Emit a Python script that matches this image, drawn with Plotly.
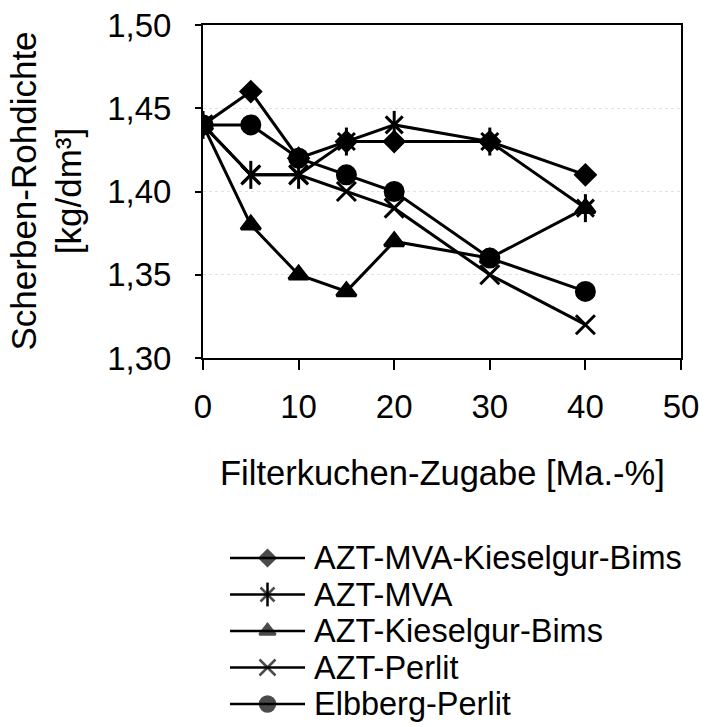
import plotly.graph_objects as go

# Filter cake addition [mass-%]
zugabe = [0, 5, 10, 15, 20, 30, 40]

# Bulk density of the fired body [kg/dm³] per mixture
azt_mva_kieselgur_bims = [1.44, 1.46, 1.42, 1.43, 1.43, 1.43, 1.41]
azt_mva = [1.44, 1.41, 1.41, 1.43, 1.44, 1.43, 1.39]
azt_kieselgur_bims = [1.44, 1.38, 1.35, 1.34, 1.37, 1.36, 1.39]
azt_perlit = [1.44, 1.41, 1.41, 1.40, 1.39, 1.35, 1.32]
elbberg_perlit = [1.44, 1.44, 1.42, 1.41, 1.40, 1.36, 1.34]

series_names = [
    "AZT-MVA-Kieselgur-Bims",
    "AZT-MVA",
    "AZT-Kieselgur-Bims",
    "AZT-Perlit",
    "Elbberg-Perlit",
]
series_values = [azt_mva_kieselgur_bims, azt_mva, azt_kieselgur_bims,
                 azt_perlit, elbberg_perlit]

y_ticks = [1.30, 1.35, 1.40, 1.45, 1.50]
x_ticks = [0, 10, 20, 30, 40, 50]

W, H = 720, 727
FONT = "Liberation Sans, Arial, sans-serif"
INK = "#000000"
LW = 3

# marker styles: (symbol, size, extra overlay symbol)
styles = [
    ("diamond", 15, None),
    ("x-thin-open", 17, "line-ns-open"),
    ("triangle-up", 17, None),
    ("x-thin-open", 19, None),
    ("circle", 18, None),
]

fig = go.Figure()

for name, vals, (sym, size, extra) in zip(series_names, series_values, styles):
    fig.add_trace(go.Scatter(
        x=zugabe, y=vals, name=name, mode="lines+markers",
        line=dict(color=INK, width=LW),
        marker=dict(symbol=sym, size=size, color=INK,
                    line=dict(color=INK, width=LW)),
        showlegend=False,
    ))
    if extra:
        fig.add_trace(go.Scatter(
            x=zugabe, y=vals, mode="markers", hoverinfo="skip",
            marker=dict(symbol=extra, size=size + 3, color=INK,
                        line=dict(color=INK, width=LW)),
            showlegend=False,
        ))

# plot area in pixels
PL, PR, PT, PB = 203, 681, 25, 358

# legend block drawn in its own pixel-scaled axes below the plot
leg_x0, leg_x1, leg_text_x = 230, 305, 312
leg_y0, leg_dy = 558, 36.5
annotations = []
for i, (name, (sym, size, extra)) in enumerate(zip(series_names, styles)):
    yy = leg_y0 + i * leg_dy
    xm = (leg_x0 + leg_x1) / 2
    fig.add_trace(go.Scatter(
        x=[leg_x0, xm, leg_x1], y=[yy, yy, yy], mode="lines+markers",
        xaxis="x2", yaxis="y2", hoverinfo="skip", showlegend=False,
        line=dict(color=INK, width=LW - 0.5),
        marker=dict(symbol=sym, size=[0, size - 3, 0], color=INK,
                    line=dict(color=INK, width=LW - 0.5)),
    ))
    if extra:
        fig.add_trace(go.Scatter(
            x=[xm], y=[yy], mode="markers", xaxis="x2", yaxis="y2",
            hoverinfo="skip", showlegend=False,
            marker=dict(symbol=extra, size=size, color=INK,
                        line=dict(color=INK, width=LW - 0.5)),
        ))
    annotations.append(dict(
        x=leg_text_x, y=yy, xref="x2", yref="y2", text=name,
        showarrow=False, xanchor="left", yanchor="middle",
        font=dict(family=FONT, size=32.5, color=INK),
    ))

# axis titles
annotations.append(dict(
    x=442, y=473, xref="x2", yref="y2",
    text="Filterkuchen-Zugabe [Ma.-%]", showarrow=False,
    xanchor="center", yanchor="middle",
    font=dict(family=FONT, size=34.5, color=INK),
))
annotations.append(dict(
    x=46, y=(PT + PB) / 2, xref="x2", yref="y2",
    text="Scherben-Rohdichte<br>[kg/dm³]", showarrow=False, textangle=-90,
    xanchor="center", yanchor="middle",
    font=dict(family=FONT, size=35, color=INK),
))

fig.update_layout(
    width=W, height=H,
    margin=dict(l=0, r=0, t=0, b=0, autoexpand=False),
    paper_bgcolor="white", plot_bgcolor="rgba(0,0,0,0)",
    separators=",.",
    showlegend=False,
    annotations=annotations,
    xaxis=dict(
        domain=[PL / W, PR / W], range=[0, 50], automargin=False,
        tickvals=x_ticks, ticks="outside", ticklen=10, tickwidth=1.5,
        tickcolor=INK, showline=True, linecolor=INK, linewidth=2,
        mirror=True, showgrid=False, zeroline=False,
        tickfont=dict(family=FONT, size=33, color=INK),
        ticklabelstandoff=8,
    ),
    yaxis=dict(
        domain=[(H - PB) / H, (H - PT) / H], range=[1.30, 1.50],
        automargin=False,
        tickvals=y_ticks, tickformat=".2f", ticks="outside", ticklen=6,
        tickwidth=1.5, tickcolor=INK, showline=True, linecolor=INK,
        linewidth=2, mirror=True, zeroline=False,
        showgrid=True, gridcolor="#e2e2e2", griddash="dot", gridwidth=1,
        tickfont=dict(family=FONT, size=33, color=INK),
        ticklabelstandoff=17,
    ),
    # pixel-scaled helper axes spanning the whole figure
    xaxis2=dict(domain=[0, 1], range=[0, W], visible=False,
                anchor="y2", fixedrange=True, automargin=False),
    yaxis2=dict(domain=[0, 1], range=[H, 0],
                visible=False, anchor="x2", fixedrange=True,
                automargin=False),
)

fig.write_html("out.html")
